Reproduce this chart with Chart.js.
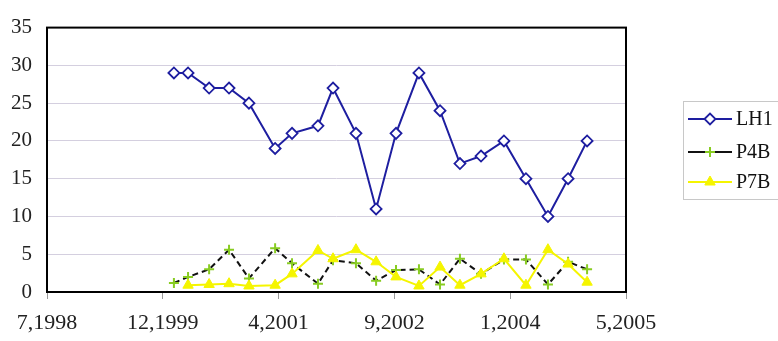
<!DOCTYPE html>
<html>
<head>
<meta charset="utf-8">
<script src="https://cdn.jsdelivr.net/npm/chart.js@4"></script>
<style>
  html, body { margin: 0; padding: 0; background: #fff; }
  #wrap { width: 778px; height: 341px; }
</style>
</head>
<body>
<div id="wrap"><canvas id="chart" width="778" height="341"></canvas></div>
<script>
// sample dates (x)
const sampleDates = [
  '2000-01-26', '2000-03-27', '2000-06-26', '2000-09-20', '2000-12-15',
  '2001-04-07', '2001-06-19', '2001-10-09', '2001-12-13', '2002-03-22',
  '2002-06-17', '2002-09-11', '2002-12-19', '2003-03-20', '2003-06-14',
  '2003-09-13', '2003-12-21', '2004-03-25', '2004-06-28', '2004-09-23',
  '2004-12-14'
];
const lh1 = [29, 29, 27, 27, 25, 19, 21, 22, 27, 21, 11, 21, 29, 24, 17, 18, 20, 15, 10, 15, 20];
const p4b = [1.2, 2, 3, 5.6, 1.8, 5.8, 3.8, 1.1, 4.2, 3.8, 1.5, 2.9, 3, 1, 4.4, 2.4, 4.3, 4.3, 1, 4, 3];
const p7b = [null, 0.9, 1.0, 1.1, 0.8, 0.9, 2.4, 5.5, 4.4, 5.6, 4.0, 2.0, 0.8, 3.3, 0.9, 2.4, 4.4, 0.9, 5.6, 3.7, 1.3];
const tickLabels = ['7,1998', '12,1999', '4,2001', '9,2002', '1,2004', '5,2005'];
const axisStart = '1998-07-27';

const dayMs = 86400000;
function toDays(s) {
  return Math.round((Date.parse(s) - Date.parse(axisStart)) / dayMs);
}
function pts(vals) {
  return sampleDates.map((d, i) => ({ x: toDays(d), y: vals[i] }));
}

const plotFrame = {
  id: 'plotFrame',
  afterDatasetsDraw(chart) {
    const a = chart.chartArea, c = chart.ctx;
    c.save();
    c.strokeStyle = '#000';
    c.lineWidth = 2;
    c.strokeRect(a.left, a.top, a.right - a.left, a.bottom - a.top);
    c.restore();
  }
};

const sideLegend = {
  id: 'sideLegend',
  afterDraw(chart) {
    const c = chart.ctx;
    c.save();
    c.strokeStyle = '#c8c8c8';
    c.lineWidth = 1;
    c.strokeRect(683.5, 101.5, 120, 98);
    const rows = [119, 152, 182];
    chart.data.datasets.forEach((ds, i) => {
      const y = rows[i];
      c.strokeStyle = ds.borderColor;
      c.lineWidth = ds.borderWidth;
      c.setLineDash([]);
      c.beginPath();
      c.moveTo(688, y);
      c.lineTo(732, y);
      c.stroke();
      c.fillStyle = ds.pointBackgroundColor;
      c.strokeStyle = ds.pointBorderColor;
      c.lineWidth = ds.pointBorderWidth;
      Chart.helpers.drawPoint(c, {
        pointStyle: ds.pointStyle,
        radius: ds.pointRadius,
        borderWidth: ds.pointBorderWidth,
        rotation: 0
      }, 710, y);
      c.fillStyle = '#111';
      c.font = '20px "Liberation Serif", "Times New Roman", serif';
      c.textBaseline = 'middle';
      c.textAlign = 'left';
      c.fillText(ds.label, 736, y + 1);
    });
    c.restore();
  }
};

new Chart(document.getElementById('chart'), {
  type: 'line',
  data: {
    datasets: [
      {
        label: 'LH1',
        data: pts(lh1),
        borderColor: '#1e1ea0',
        borderWidth: 2,
        pointStyle: 'rectRot',
        pointRadius: 5.5,
        pointBorderWidth: 1.8,
        pointBackgroundColor: '#ffffff',
        pointBorderColor: '#1e1ea0',
        order: 3
      },
      {
        label: 'P4B',
        data: pts(p4b),
        borderColor: '#111111',
        borderWidth: 2,
        borderDash: [6, 4],
        pointStyle: 'cross',
        pointRadius: 5,
        pointBorderWidth: 2,
        pointBackgroundColor: '#88cc22',
        pointBorderColor: '#88cc22',
        order: 2
      },
      {
        label: 'P7B',
        data: pts(p7b),
        borderColor: '#f5f500',
        borderWidth: 2,
        pointStyle: 'triangle',
        pointRadius: 6,
        pointBorderWidth: 1,
        pointBackgroundColor: '#f5f500',
        pointBorderColor: '#f5f500',
        order: 1
      }
    ]
  },
  options: {
    responsive: false,
    animation: false,
    spanGaps: false,
    layout: {
      padding: { top: 14, right: 152, left: 0, bottom: 0 }
    },
    plugins: {
      legend: { display: false },
      tooltip: { enabled: false }
    },
    scales: {
      x: {
        type: 'linear',
        min: 0,
        max: 2500,
        afterFit(scale) { scale.height = 49; },
        afterBuildTicks(scale) {
          scale.ticks = tickLabels.map((t, i) => ({ value: i * 500 }));
        },
        grid: {
          drawOnChartArea: false,
          drawTicks: true,
          tickLength: 7,
          color: '#999'
        },
        border: { display: false },
        ticks: {
          autoSkip: false,
          maxRotation: 0,
          padding: 11,
          color: '#222',
          font: { family: '"Liberation Serif", "Times New Roman", serif', size: 22 },
          callback: (v, i) => tickLabels[i]
        }
      },
      y: {
        min: 0,
        max: 35,
        afterFit(scale) { scale.width = 47; },
        grid: {
          color: '#d4cfdf',
          lineWidth: 1,
          drawTicks: false
        },
        border: { display: false },
        ticks: {
          stepSize: 5,
          padding: 15,
          color: '#222',
          font: { family: '"Liberation Serif", "Times New Roman", serif', size: 21 }
        }
      }
    }
  },
  plugins: [plotFrame, sideLegend]
});
</script>
</body>
</html>
